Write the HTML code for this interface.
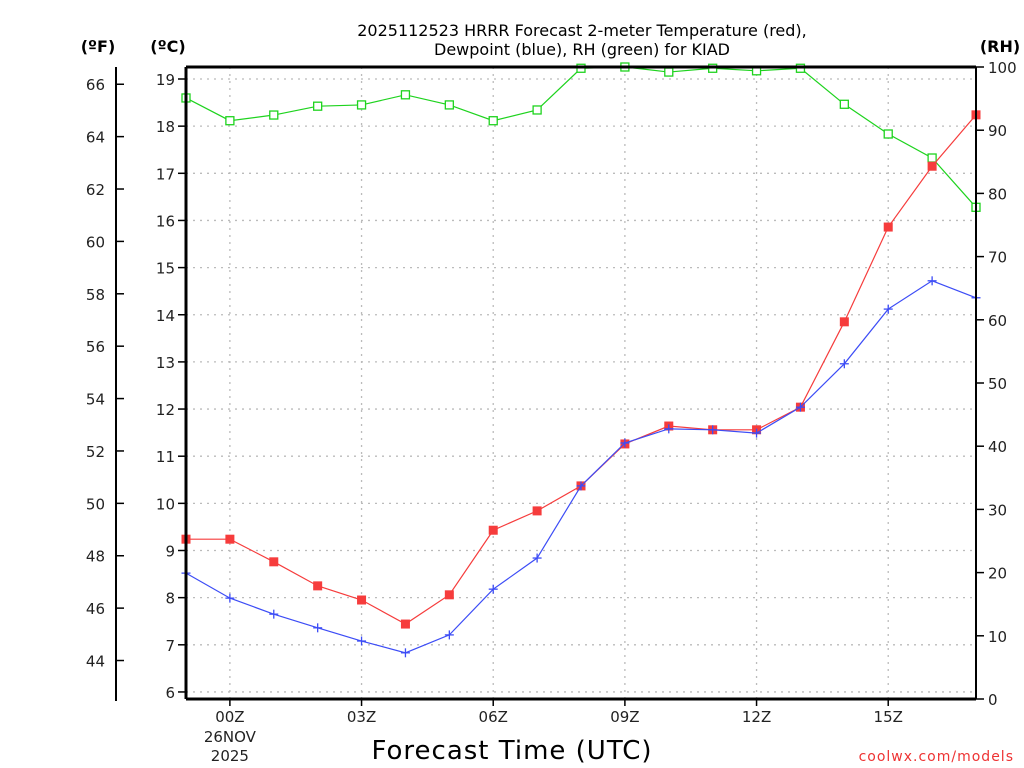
<!DOCTYPE html>
<html><head><meta charset="utf-8"><style>
body{margin:0;background:#fff;}
svg{display:block;font-family:"DejaVu Sans","Liberation Sans",sans-serif;}
</style></head><body>
<svg id="chart" width="1024" height="768" xmlns="http://www.w3.org/2000/svg"></svg>
<script>
const hours=[-1,0,1,2,3,4,5,6,7,8,9,10,11,12,13,14,15,16,17];
const tempC=[9.24,9.24,8.76,8.25,7.95,7.44,8.06,9.43,9.84,10.37,11.26,11.64,11.56,11.56,12.04,13.85,15.86,17.15,18.24];
const dewC=[8.52,7.99,7.65,7.36,7.08,6.83,7.21,8.18,8.84,10.37,11.28,11.58,11.56,11.49,12.04,12.96,14.12,14.72,14.36];
const rh=[95.1,91.5,92.4,93.8,94.0,95.6,94.0,91.5,93.2,99.8,100,99.2,99.8,99.4,99.8,94.1,89.4,85.6,77.8];
const xTickHours=[0,3,6,9,12,15];
const xTickLabels=["00Z","03Z","06Z","09Z","12Z","15Z"];
const cTicks=[6,7,8,9,10,11,12,13,14,15,16,17,18,19];
const fTicks=[44,46,48,50,52,54,56,58,60,62,64,66];
const rhTicks=[0,10,20,30,40,50,60,70,80,90,100];

const L=186,R=976,T=67,B=699;
const X=h=>L+(h+1)*(R-L)/18;
const YC=c=>79+(19-c)*47.15;
const YF=f=>YC((f-32)/1.8);
const YR=r=>B-r*(B-T)/100;
const svg=document.getElementById('chart');
const NS='http://www.w3.org/2000/svg';
function mk(tag,attrs,parent){const e=document.createElementNS(NS,tag);for(const k in attrs)e.setAttribute(k,attrs[k]);(parent||svg).appendChild(e);return e;}
function txt(s,x,y,attrs){const e=mk('text',Object.assign({x:x,y:y},attrs||{}));e.textContent=s;return e;}

// grid
const grid=mk('g',{stroke:'#bbb','stroke-dasharray':'2,5','stroke-width':1.3});


cTicks.forEach(c=>mk('line',{x1:L,x2:R,y1:YC(c),y2:YC(c)},grid));
xTickHours.forEach(h=>mk('line',{x1:X(h),x2:X(h),y1:T,y2:B},grid));

// series
function series(vals,yf,color,name,marker){
  const g=mk('g',{});
  
  
  mk('polyline',{points:hours.map((h,i)=>X(h)+','+yf(vals[i])).join(' '),fill:'none',stroke:color,'stroke-width':1.2},g);
  hours.forEach((h,i)=>{const x=X(h),y=yf(vals[i]);
    if(marker==='fill')mk('rect',{x:x-4.5,y:y-4.5,width:9,height:9,fill:color},g);
    else if(marker==='open')mk('rect',{x:x-4,y:y-4,width:8,height:8,fill:'#fff',stroke:color,'stroke-width':1.3},g);
    else {mk('line',{x1:x-4.5,x2:x+4.5,y1:y,y2:y,stroke:color,'stroke-width':1.3},g);mk('line',{x1:x,x2:x,y1:y-4.5,y2:y+4.5,stroke:color,'stroke-width':1.3},g);}
  });
}
series(rh,YR,'#1ed31e','rh-series','open');
series(tempC,YC,'#f63c3c','temperature-series','fill');
series(dewC,YC,'#3c4cf6','dewpoint-series','plus');

// frame
const fr=mk('g',{stroke:'#000',fill:'none'});


mk('line',{x1:L,x2:R,y1:T,y2:T,'stroke-width':3},fr);
mk('line',{x1:L,x2:R,y1:B,y2:B,'stroke-width':3},fr);
mk('line',{x1:L,x2:L,y1:T,y2:B,'stroke-width':3},fr);
mk('line',{x1:R,x2:R,y1:T,y2:B,'stroke-width':2},fr);
mk('line',{x1:116,x2:116,y1:T,y2:B+2,'stroke-width':2},fr);

const axf={'font-size':15,fill:'#222'};
cTicks.forEach(c=>{mk('line',{x1:L-8,x2:L,y1:YC(c),y2:YC(c),stroke:'#000','stroke-width':1.5});
  const t=txt(String(c),L-11,YC(c)+6,Object.assign({'text-anchor':'end'},axf));
  });
fTicks.forEach(f=>{mk('line',{x1:116,x2:124,y1:YF(f),y2:YF(f),stroke:'#000','stroke-width':1.5});
  const t=txt(String(f),105,YF(f)+6,Object.assign({'text-anchor':'end'},axf));
  });
rhTicks.forEach(r=>{mk('line',{x1:R,x2:R+8,y1:YR(r),y2:YR(r),stroke:'#000','stroke-width':1.5});
  const t=txt(String(r),R+12,YR(r)+6,Object.assign({'text-anchor':'start'},axf));
  });
xTickHours.forEach((h,i)=>{mk('line',{x1:X(h),x2:X(h),y1:B,y2:B+7,stroke:'#000','stroke-width':1.5});
  const t=txt(xTickLabels[i],X(h),722,Object.assign({'text-anchor':'middle'},axf));
  });
const d1=txt('26NOV',X(0),742,Object.assign({'text-anchor':'middle'},axf));

const d2=txt('2025',X(0),761,Object.assign({'text-anchor':'middle'},axf));


const lab={'font-size':16,'font-weight':'bold',fill:'#000','text-anchor':'middle'};
let e=txt('(ºF)',98,52,lab);
e=txt('(ºC)',168,52,lab);
e=txt('(RH)',1000,52,lab);
e=txt('2025112523 HRRR Forecast 2-meter Temperature (red),',582,36,{'font-size':16,'text-anchor':'middle',fill:'#000'});

e=txt('Dewpoint (blue), RH (green) for KIAD',582,55,{'font-size':16,'text-anchor':'middle',fill:'#000'});

e=txt('Forecast Time (UTC)',512,759,{'font-size':26,'text-anchor':'middle',fill:'#000','letter-spacing':1});

e=txt('coolwx.com/models',1014,761,{'font-size':14,'text-anchor':'end',fill:'#e33','letter-spacing':1});

</script>
</body></html>
